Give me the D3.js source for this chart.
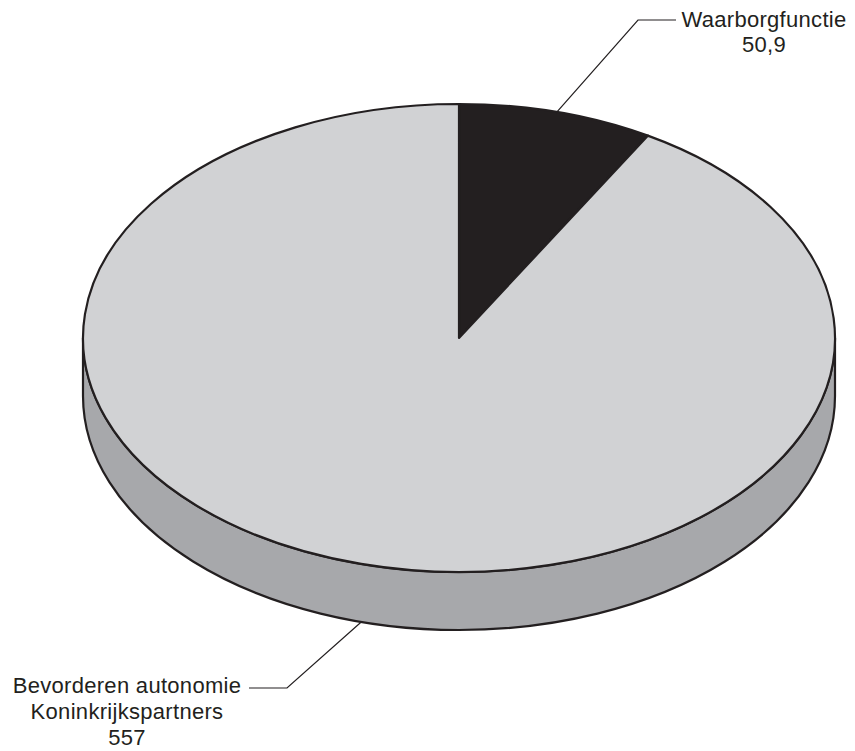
<!DOCTYPE html>
<html>
<head>
<meta charset="utf-8">
<script src="https://cdn.jsdelivr.net/npm/d3@7"></script>
<style>
  body { margin: 0; background: #fff; }
  text { font-family: "Liberation Sans", Arial, sans-serif; font-size: 22px; letter-spacing: 0.3px; fill: #231f20; }
</style>
</head>
<body>
<script>
// Data
var labels = ["Waarborgfunctie", "Bevorderen autonomie Koninkrijkspartners"];
var valueLabels = ["50,9", "557"];
var values = [50.9, 557];
var fills = ["#231f20", "#d1d2d4"];

// Pie geometry
var W = 855, H = 751;
var cx = 459, cy = 338, rx = 376, ry = 234, depth = 58;
var sideColor = "#a7a8ab";
var ink = "#231f20";

var svg = d3.select("body").append("svg")
    .attr("width", W)
    .attr("height", H);

var pie = d3.pie().sort(null).value(function(d) { return d; });
var arcs = pie(values);

function pt(a, dy) {
    return [cx + rx * Math.sin(a), cy - ry * Math.cos(a) + (dy || 0)];
}

// side walls, only the front half (angles pi/2 .. 3pi/2)
function sidePath(a0, a1) {
    var s = Math.max(a0, Math.PI / 2), e = Math.min(a1, Math.PI * 3 / 2);
    if (e <= s) return null;
    var p0 = pt(s), p1 = pt(e), p2 = pt(e, depth), p3 = pt(s, depth);
    var large = (e - s) > Math.PI ? 1 : 0;
    return "M" + p0 + " A" + rx + "," + ry + " 0 " + large + " 1 " + p1 +
        " L" + p2 + " A" + rx + "," + ry + " 0 " + large + " 0 " + p3 + " Z";
}

arcs.forEach(function(d) {
    var p = sidePath(d.startAngle, d.endAngle);
    if (p) {
        svg.append("path")
            .attr("d", p)
            .attr("fill", sideColor)
            .attr("stroke", ink)
            .attr("stroke-width", 2.2)
            .attr("stroke-linejoin", "round");
    }
});

// top face slices
function topPath(a0, a1) {
    var p0 = pt(a0), p1 = pt(a1);
    var large = (a1 - a0) > Math.PI ? 1 : 0;
    return "M" + cx + "," + cy + " L" + p0 + " A" + rx + "," + ry + " 0 " + large + " 1 " + p1 + " Z";
}

svg.selectAll(".slice")
    .data(arcs)
    .enter()
    .append("path")
    .attr("class", "slice")
    .attr("d", function(d) { return topPath(d.startAngle, d.endAngle); })
    .attr("fill", function(d, i) { return fills[i]; })
    .attr("stroke", ink)
    .attr("stroke-width", 2.2)
    .attr("stroke-linejoin", "round");

// labels with leader lines
function leader(points) {
    svg.append("polyline")
        .attr("points", points.map(function(p) { return p.join(","); }).join(" "))
        .attr("fill", "none")
        .attr("stroke", ink)
        .attr("stroke-width", 1.2);
}

// Waarborgfunctie
var m0 = (arcs[0].startAngle + arcs[0].endAngle) / 2;
var a0 = pt(m0);
leader([a0, [638, 20], [676, 20]]);
var t0 = svg.append("text").attr("text-anchor", "middle").attr("x", 764).attr("y", 27);
t0.append("tspan").attr("x", 764).text(labels[0]);
t0.append("tspan").attr("x", 764).attr("dy", 25).text(valueLabels[0]);

// Bevorderen autonomie
var m1 = (arcs[1].startAngle + arcs[1].endAngle) / 2;
var a1 = pt(m1, depth);
leader([a1, [287, 688], [249, 688]]);
var words = labels[1].split(" ");
var t1 = svg.append("text").attr("text-anchor", "middle").attr("x", 127).attr("y", 693);
t1.append("tspan").attr("x", 127).text(words[0] + " " + words[1]);
t1.append("tspan").attr("x", 127).attr("dy", 26).text(words[2]);
t1.append("tspan").attr("x", 127).attr("dy", 26).text(valueLabels[1]);
</script>
</body>
</html>
